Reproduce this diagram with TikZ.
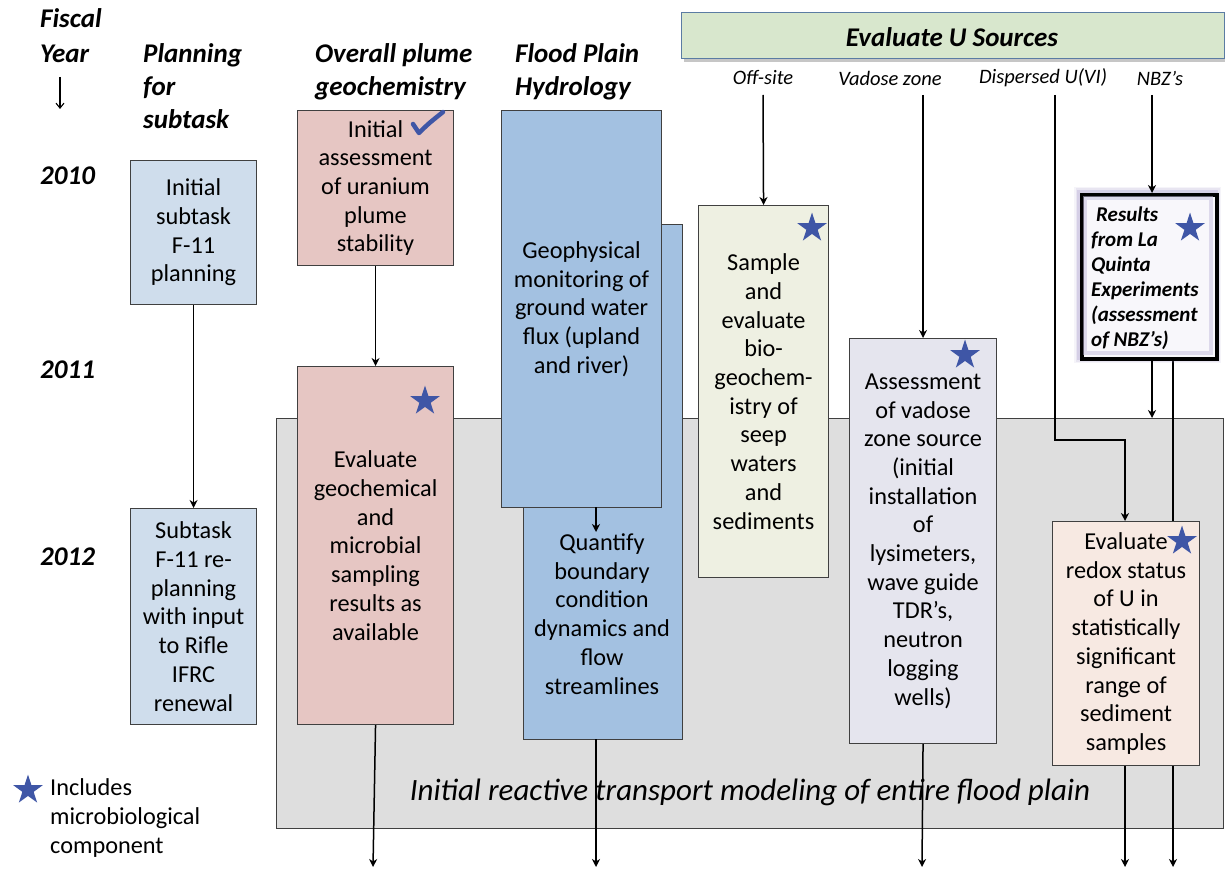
\documentclass[tikz,border=0pt]{standalone}
\usepackage{fontspec}
\setmainfont{Carlito}
\usetikzlibrary{arrows.meta,shapes.geometric,shadows}

\definecolor{planblue}{HTML}{CFDDEC}
\definecolor{plumepink}{HTML}{E6C6C3}
\definecolor{hydroblue}{HTML}{A3C1E1}
\definecolor{seepcream}{HTML}{EEF0E2}
\definecolor{vadlilac}{HTML}{E5E5EE}
\definecolor{redoxpeach}{HTML}{F7E9E2}
\definecolor{modelgray}{HTML}{DEDEDE}
\definecolor{srcgreen}{HTML}{D8E7CD}
\definecolor{srcedge}{HTML}{5B7CA3}
\definecolor{starblue}{HTML}{3F56A6}
\definecolor{glowpurple}{HTML}{9C8FC4}

\newcommand\boxfnt{\fontsize{24.3}{28.7}\selectfont}
\newcommand\headfnt{\fontsize{27}{33}\selectfont\bfseries\itshape}
\newcommand\labfnt{\fontsize{20.5}{24}\selectfont\itshape}
\newcommand\lqfnt{\fontsize{21}{25}\selectfont\bfseries\itshape}
\newcommand\modelfnt{\fontsize{31}{36}\selectfont\itshape}

\tikzset{
  taskbox/.style={draw=black!75, line width=1.1pt, inner sep=0pt, align=center,
    font=\boxfnt, anchor=north west},
  txt/.style={inner sep=0pt, align=center, font=\boxfnt},
  head/.style={inner sep=0pt, align=left, font=\headfnt, anchor=north west},
  srclabel/.style={inner sep=0pt, font=\labfnt},
  arr/.style={draw=black, line width=1.5pt, -{Stealth[length=8pt,width=8pt,inset=2.5pt]}},
  mstar/.style={star, star points=5, star point ratio=2.618, fill=starblue,
    draw=none, minimum size=31pt, inner sep=0pt},
}

\begin{document}
\begin{tikzpicture}[x=1pt,y=-1pt]
\useasboundingbox (0,0) rectangle (1225,869);

% ---- modelling band behind the task boxes
\node[taskbox, fill=modelgray, minimum width=947, minimum height=410] (model) at (276,418) {};
\node[inner sep=0pt, font=\modelfnt] (modeltxt) at (750,792)
  {Initial reactive transport modeling of entire flood plain};

% ---- column headings
\node[head, font=\fontsize{27}{35}\selectfont\bfseries\itshape] (fiscal) at (40,8) {Fiscal\\Year};
\coordinate (fyA) at (60,77);
\coordinate (fyB) at (60,109);
\draw[draw=black, line width=1.1pt, -{Straight Barb[length=5pt,width=8pt]}] (fyA) -- (fyB);
\node[head] (hplan) at (143,43) {Planning\\for\\subtask};
\node[head] (hplume) at (315,43) {Overall plume\\geochemistry};
\node[head] (hflood) at (515,43) {Flood Plain\\Hydrology};

% ---- fiscal years
\node[inner sep=0pt, font=\headfnt, anchor=west] (y2010) at (40,176) {2010};
\node[inner sep=0pt, font=\headfnt, anchor=west] (y2011) at (40,370) {2011};
\node[inner sep=0pt, font=\headfnt, anchor=west] (y2012) at (40,557) {2012};

% ---- U sources banner and its branches
\node[taskbox, draw=srcedge, fill=srcgreen, minimum width=543, minimum height=46,
  drop shadow={shadow xshift=2pt, shadow yshift=-3pt, opacity=0.45}] (src) at (681,12) {};
\node[inner sep=0pt, font=\headfnt] (srctxt) at (952,37) {Evaluate U Sources};

\node[srclabel] (loff) at (763,78) {Off-site};
\node[srclabel] (lvad) at (890,78) {Vadose zone};
\node[srclabel] (ldis) at (1043,78) {Dispersed U(VI)};
\node[srclabel] (lnbz) at (1160,78) {NBZ’s};

% ---- bottom ends of the outgoing arrows
\coordinate (endA) at (373,867);
\coordinate (endB) at (596,867);
\coordinate (endC) at (922,867);
\coordinate (endD) at (1125,867);
\coordinate (endE) at (1173,867);

% ---- lines that run behind boxes
\coordinate (lqout) at (1173,357);
\draw[arr] (lqout) -- (endE);
\coordinate (disA) at (1055,95);
\coordinate (nbzA) at (1152,95);

% ---- planning column
\node[taskbox, fill=planblue, minimum width=126, minimum height=144] (plan1) at (130,160)
  {Initial\\subtask\\F-11\\planning};
\node[taskbox, fill=planblue, minimum width=126, minimum height=216] (plan2) at (130,508)
  {Subtask\\F-11 re-\\planning\\with input\\to Rifle\\IFRC\\renewal};
\draw[arr] (plan1.south) -- (plan2.north);

% ---- plume geochemistry column
\node[taskbox, fill=plumepink, minimum width=156, minimum height=155] (geo1) at (297,110)
  {Initial\\assessment\\of uranium\\plume\\stability};
\draw[starblue, line width=4.5pt, line cap=round, line join=round]
  (413,124) .. controls (416,129) .. (419,133) .. controls (428,124) .. (443,112);
\node[taskbox, fill=plumepink, minimum width=156, minimum height=358] (geo2) at (297,366)
  {Evaluate\\geochemical\\and\\microbial\\sampling\\results as\\available};
\node[mstar] (stgeo) at (425,401) {};
\draw[arr] (geo1.south) -- (geo2.north);
\draw[arr] (geo2.south) -- (endA);

% ---- flood plain hydrology column
\node[taskbox, fill=hydroblue, minimum width=159, minimum height=515] (hyd2) at (523,224) {};
\node[txt] (hyd2txt) at (602,614)
  {Quantify\\boundary\\condition\\dynamics and\\flow\\streamlines};
\node[taskbox, fill=hydroblue, minimum width=160, minimum height=397] (hyd1) at (501,110)
  {Geophysical\\monitoring of\\ground water\\flux (upland\\and river)};
\coordinate (hydA) at (596,507);
\coordinate (hydB) at (596,532);
\draw[arr] (hydA) -- (hydB);
\coordinate (hydC) at (596,739);
\draw[arr] (hydC) -- (endB);

% ---- off-site seeps
\node[taskbox, fill=seepcream, minimum width=130, minimum height=372] (seep) at (698,205)
  {Sample\\and\\evaluate\\bio-\\geochem-\\istry of\\seep\\waters\\and\\sediments};
\node[mstar] (stseep) at (812,228) {};
\draw[arr] (loff.south |- 0,95) -- (seep.north);

% ---- vadose zone
\node[taskbox, fill=vadlilac, minimum width=147, minimum height=405] (vad) at (849,338)
  {Assessment\\of vadose\\zone source\\(initial\\installation\\of\\lysimeters,\\wave guide\\TDR’s,\\neutron\\logging\\wells)};
\node[mstar] (stvad) at (965,355) {};
\draw[arr] (vad.north |- 0,95) -- (vad.north);
\draw[arr] (vad.south) -- (endC);

% ---- NBZ experiments: soft purple glow round a heavy frame
\foreach \w/\o in {12/0.10, 9/0.15, 6/0.25}
  \draw[line width=\w pt, glowpurple, opacity=\o] (1080,193) rectangle (1215,357);
\node[taskbox, draw=black, line width=3.5pt, fill=white!93!glowpurple,
  minimum width=135, minimum height=164] (lq) at (1080,193) {};
\draw[glowpurple!60, line width=4pt, opacity=0.5] (1084.5,197.5) rectangle (1210.5,352.5);
\node[inner sep=0pt, font=\lqfnt, align=left, anchor=west] (lqtxt) at (1091,278)
  {\hspace{5pt}Results\\from La\\Quinta\\Experiments\\(assessment\\of NBZ’s)};
\node[mstar] (stlq) at (1190,228) {};
\draw[arr] (nbzA) -- (nbzA |- lq.north);
\draw[arr] (nbzA |- lq.south) -- (nbzA |- model.north);

% ---- dispersed U(VI)
\draw[arr] (disA) -- ++(0,345) -| (endD |- 0,521);
\node[taskbox, fill=redoxpeach, minimum width=147, minimum height=244] (redox) at (1052,521)
  {Evaluate\\redox status\\of U in\\statistically\\significant\\range of\\sediment\\samples};
\node[mstar] (stredox) at (1182,541) {};
\draw[arr] (endD |- redox.south) -- (endD);

% ---- legend
\node[mstar] (stleg) at (28,790) {};
\node[inner sep=0pt, align=left, font=\boxfnt, anchor=west] (legtxt) at (50,818)
  {Includes\\microbiological\\component};

\end{tikzpicture}
\end{document}
